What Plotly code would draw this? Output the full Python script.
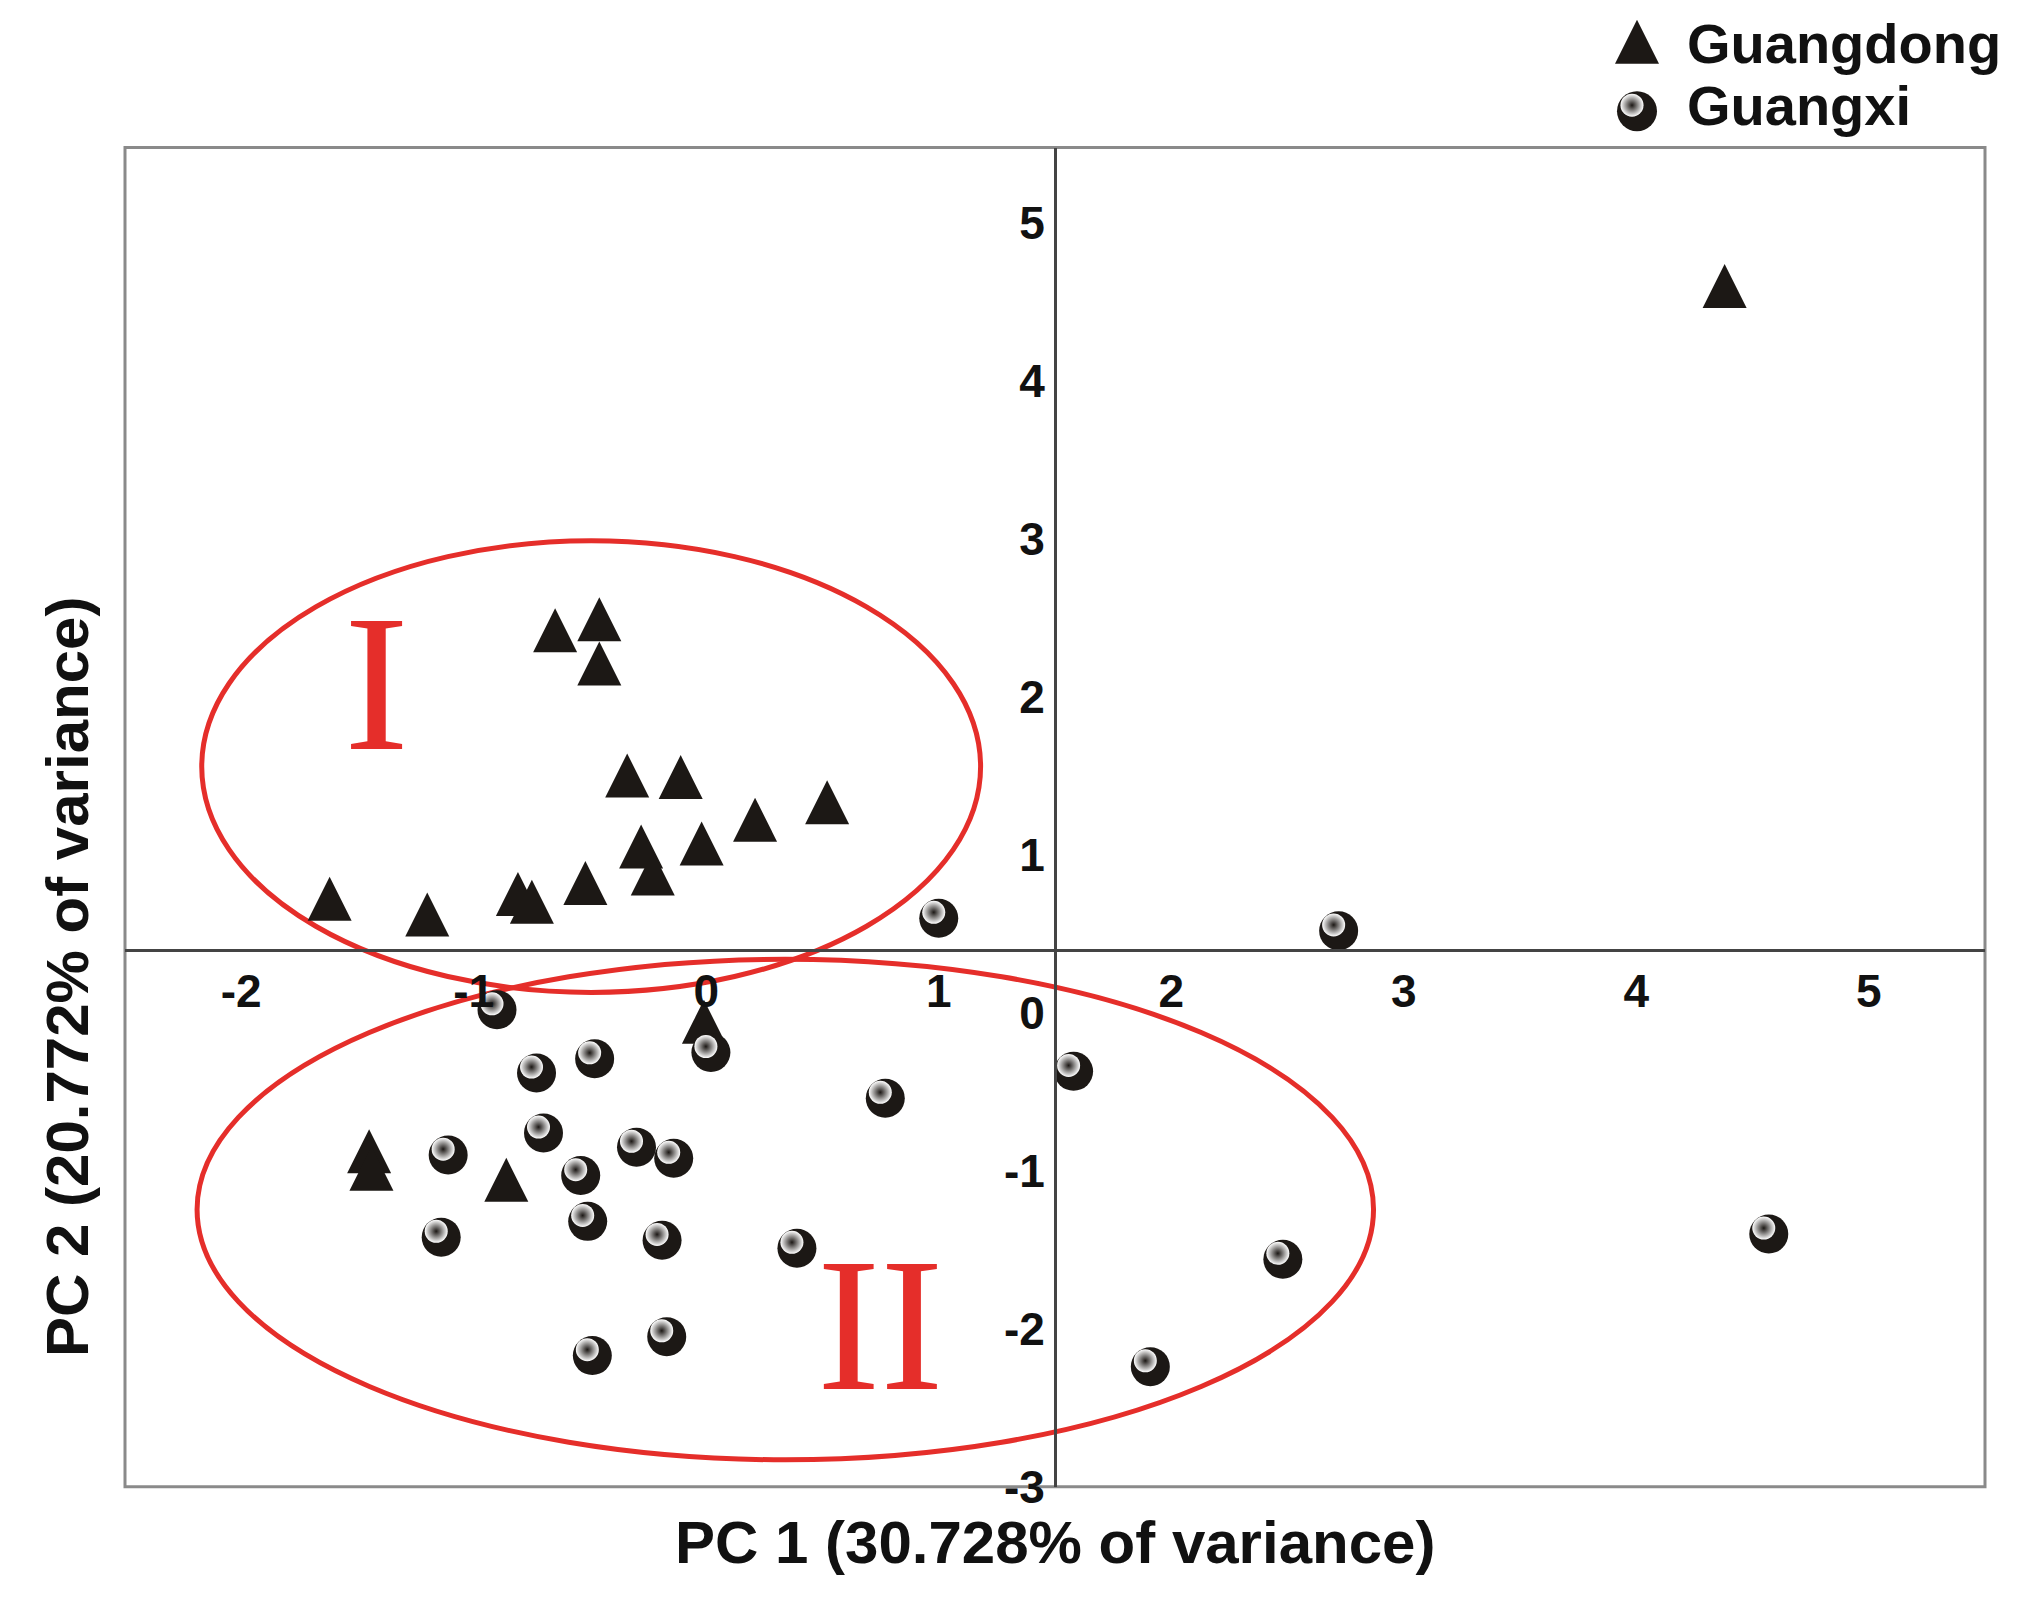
import plotly.graph_objects as go

# ---------------- data ----------------
series_names = ["Guangdong", "Guangxi"]

guangdong_pc1 = [-0.65, -0.46, -0.46, -0.34, -0.11, 0.52, 0.21, -0.28, -0.02, -0.23,
                 -0.52, -0.81, -0.75, -1.20, -1.62, -0.01, -1.45, -1.44, -0.86, 4.38]
guangdong_pc2 = [2.38, 2.45, 2.17, 1.46, 1.45, 1.29, 1.18, 1.01, 1.03, 0.84,
                 0.78, 0.71, 0.66, 0.58, 0.68, -0.10, -0.92, -1.03, -1.10, 4.56]

guangxi_pc1 = [-0.90, 0.02, -0.48, -0.73, 0.77, -0.70, -0.30, -0.14, -1.11, -0.54, -0.51,
               -1.14, -0.19, 0.39, -0.17, -0.49, 1.00, 2.72, 1.58, 4.57, 2.48, 1.91]
guangxi_pc2 = [0.02, -0.25, -0.29, -0.38, -0.54, -0.76, -0.85, -0.92, -0.90, -1.03, -1.32,
               -1.42, -1.44, -1.49, -2.05, -2.17, 0.60, 0.52, -0.37, -1.40, -1.56, -2.24]

x_tick_vals = [-2, -1, 0, 1, 2, 3, 4, 5]
x_tick_text = ["-2", "-1", "0", "1", "2", "3", "4", "5"]
y_tick_vals = [-3, -2, -1, 0, 1, 2, 3, 4, 5]
y_tick_text = ["-3", "-2", "-1", "0", "1", "2", "3", "4", "5"]

x_title = "PC 1 (30.728% of variance)"
y_title = "PC 2 (20.772% of variance)"
group_labels = ["I", "II"]

# ---------------- layout constants ----------------
W, H = 2025, 1614
PL, PR, PT, PB = 125, 1985, 150, 1511          # plot area in px
x_range = [-2.5, 5.5]
y_range = [-3.0, 5.48]
cross_x, cross_y = 1.5, 0.4                    # where the drawn axes cross

plot_w = PR - PL
plot_h = PB - PT
px_per_x = plot_w / (x_range[1] - x_range[0])
px_per_y = plot_h / (y_range[1] - y_range[0])

x_dom = [PL / W, PR / W]
y_dom = [1 - PB / H, 1 - PT / H]

FONT = "Liberation Sans, Arial, sans-serif"
INK = "#1c1815"
RED = "rgb(229,46,42)"
TRI_SIZE = 44
BALL_SIZE = 39
HL_SIZE = 23

# arrow-up markers hang below their point: shift so the centroid sits on the value
tri_shift = (2.0 / 3.0 * TRI_SIZE) / px_per_y
# specular highlight offset (up-left)
hl_dx = 5 / px_per_x
hl_dy = 6 / px_per_y

fig = go.Figure()

fig.add_trace(go.Scatter(
    x=guangdong_pc1, y=guangdong_pc2, mode="markers", name=series_names[0],
    xaxis="x", yaxis="y2", showlegend=False,
    marker=dict(symbol="arrow-up", size=TRI_SIZE, color=INK, line=dict(width=0)),
))
fig.add_trace(go.Scatter(
    x=guangxi_pc1, y=guangxi_pc2, mode="markers", name=series_names[1],
    xaxis="x", yaxis="y3", showlegend=False,
    marker=dict(symbol="circle", size=BALL_SIZE, color=INK, line=dict(width=0)),
))
fig.add_trace(go.Scatter(
    x=guangxi_pc1, y=guangxi_pc2, mode="markers", name=series_names[1] + " highlight",
    xaxis="x2", yaxis="y4", showlegend=False, hoverinfo="skip",
    marker=dict(symbol="circle", size=HL_SIZE, color="white", line=dict(width=0),
                gradient=dict(type="radial", color=INK)),
))

# legend glyphs (own small axes above the plot)
fig.add_trace(go.Scatter(x=[0.5], y=[0.857], mode="markers", xaxis="x3", yaxis="y5",
                         showlegend=False, hoverinfo="skip",
                         marker=dict(symbol="arrow-up", size=TRI_SIZE, color=INK, line=dict(width=0))))
fig.add_trace(go.Scatter(x=[0.5], y=[0.193], mode="markers", xaxis="x3", yaxis="y5",
                         showlegend=False, hoverinfo="skip",
                         marker=dict(symbol="circle", size=40, color=INK, line=dict(width=0))))
fig.add_trace(go.Scatter(x=[0.45], y=[0.236], mode="markers", xaxis="x3", yaxis="y5",
                         showlegend=False, hoverinfo="skip",
                         marker=dict(symbol="circle", size=HL_SIZE, color="white", line=dict(width=0),
                                     gradient=dict(type="radial", color=INK))))

pos_x_axis = y_dom[0] + (cross_y - y_range[0]) / (y_range[1] - y_range[0]) * (y_dom[1] - y_dom[0])
pos_y_axis = x_dom[0] + (cross_x - x_range[0]) / (x_range[1] - x_range[0]) * (x_dom[1] - x_dom[0])

tickfont = dict(family=FONT, size=46, color="#111111", weight="bold")
hidden = dict(visible=False, showgrid=False, zeroline=False, fixedrange=True)

fig.update_layout(
    width=W, height=H,
    margin=dict(l=0, r=0, t=0, b=0, pad=0),
    paper_bgcolor="white", plot_bgcolor="white",
    showlegend=False,
    xaxis=dict(domain=x_dom, range=x_range, anchor="free", position=pos_x_axis,
               showline=True, linecolor="#444444", linewidth=3,
               tickmode="array", tickvals=x_tick_vals, ticktext=x_tick_text, ticks="",
               showgrid=False, zeroline=False, tickfont=tickfont),
    yaxis=dict(domain=y_dom, range=y_range, anchor="free", position=pos_y_axis,
               showline=True, linecolor="#444444", linewidth=3,
               tickmode="array", tickvals=y_tick_vals, ticktext=y_tick_text, ticks="",
               showgrid=False, zeroline=False, tickfont=tickfont),
    yaxis2=dict(overlaying="y", range=[y_range[0] - tri_shift, y_range[1] - tri_shift], **hidden),
    yaxis3=dict(overlaying="y", range=y_range, **hidden),
    xaxis2=dict(overlaying="x", range=[x_range[0] + hl_dx, x_range[1] + hl_dx], **hidden),
    yaxis4=dict(overlaying="y", range=[y_range[0] - hl_dy, y_range[1] - hl_dy], **hidden),
    xaxis3=dict(domain=[1587 / W, 1687 / W], range=[0, 1], anchor="y5", **hidden),
    yaxis5=dict(domain=[1 - 140 / H, 1.0], range=[0, 1], anchor="x3", **hidden),
)

# frame and ellipses
fig.add_shape(type="rect", xref="x domain", yref="y domain", x0=0, x1=1, y0=0, y1=1,
              line=dict(color="#8a8a8a", width=3), layer="below")
fig.add_shape(type="circle", xref="x", yref="y", x0=-2.17, x1=1.18, y0=0.13, y1=2.99,
              line=dict(color=RED, width=5), layer="below")
fig.add_shape(type="circle", xref="x", yref="y", x0=-2.19, x1=2.87, y0=-2.83, y1=0.34,
              line=dict(color=RED, width=5), layer="below")

# group labels
fig.add_annotation(text=group_labels[0], x=-1.417, y=2.09, xref="x", yref="y",
                   showarrow=False, xanchor="center", yanchor="middle",
                   font=dict(family="Liberation Serif, Times New Roman, serif", size=195, color=RED))
fig.add_annotation(text=group_labels[1], x=0.748, y=-1.975, xref="x", yref="y",
                   showarrow=False, xanchor="center", yanchor="middle",
                   font=dict(family="Liberation Serif, Times New Roman, serif", size=190, color=RED))

# axis titles
fig.add_annotation(text=x_title, x=(PL + PR) / 2 / W, y=1 - 1568 / H, xref="paper", yref="paper",
                   showarrow=False, xanchor="center", yanchor="middle",
                   font=dict(family=FONT, size=60, color="#111111", weight="bold"))
fig.add_annotation(text=y_title, x=67 / W, y=1 - 993 / H, xref="paper", yref="paper",
                   showarrow=False, xanchor="center", yanchor="middle", textangle=-90,
                   font=dict(family=FONT, size=60, color="#111111", weight="bold"))

# legend text
fig.add_annotation(text=series_names[0], x=1685 / W, y=1 - 44 / H, xref="paper", yref="paper",
                   showarrow=False, xanchor="left", yanchor="middle",
                   font=dict(family=FONT, size=56, color="#111111", weight="bold"))
fig.add_annotation(text=series_names[1], x=1685 / W, y=1 - 107 / H, xref="paper", yref="paper",
                   showarrow=False, xanchor="left", yanchor="middle",
                   font=dict(family=FONT, size=56, color="#111111", weight="bold"))

fig.write_html("out.html",
               config={"displayModeBar": False},
               post_script="document.body.style.margin='0px';document.body.style.overflow='hidden';")
